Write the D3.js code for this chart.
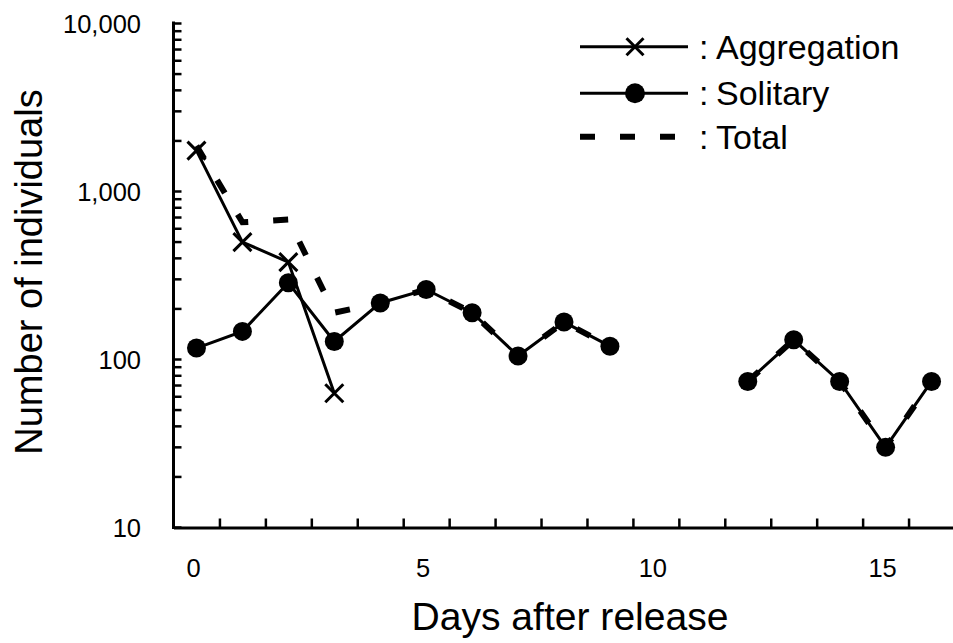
<!DOCTYPE html>
<html>
<head>
<meta charset="utf-8">
<script src="https://cdn.jsdelivr.net/npm/d3@7"></script>
<style>
  body { margin: 0; background: #fff; }
  svg text { font-family: "Liberation Sans", Arial, sans-serif; fill: #000; }
</style>
</head>
<body>
<div id="container"></div>
<script>
// Data
const days = [0, 1, 2, 3, 4, 5, 6, 7, 8, 9, 10, 11, 12, 13, 14, 15, 16];
const aggregation = [1750, 500, 380, 63, null, null, null, null, null, null, null, null, null, null, null, null, null];
const solitary = [117, 147, 286, 128, 217, 261, 190, 105, 167, 120, null, null, 74, 131, 74, 30, 74];
const total = [1870, 656, 681, 190, 217, 261, 190, 105, 167, 120, null, null, 74, 131, 74, 30, 74];
const yTicks = [10, 100, 1000, 10000];
const xTickLabels = [0, 5, 10, 15];
const legendItems = [
  { name: "Aggregation", kind: "cross" },
  { name: "Solitary", kind: "dot" },
  { name: "Total", kind: "dash" },
];

const width = 953;
const height = 643;

const x = d3.scaleLinear().domain([-0.5, 16.5]).range([173.5, 954.5]);
const y = d3.scaleLog().domain([10, 10000]).range([527.5, 23.5]);

const svg = d3
  .select("#container")
  .append("svg")
  .attr("width", width)
  .attr("height", height);

svg.append("rect").attr("width", width).attr("height", height).attr("fill", "#fff");

// Y axis: minor ticks inside, labels drawn separately
const minorTicks = [];
[10, 100, 1000].forEach((d) => {
  for (let k = 1; k <= 9; k++) minorTicks.push(d * k);
});
minorTicks.push(10000);

svg
  .append("g")
  .selectAll("line")
  .data(minorTicks)
  .enter()
  .append("line")
  .attr("x1", x(-0.5))
  .attr("x2", x(-0.5) + 8)
  .attr("y1", (d) => y(d))
  .attr("y2", (d) => y(d))
  .attr("stroke", "#000")
  .attr("stroke-width", 2.5);

svg
  .append("line")
  .attr("x1", x(-0.5))
  .attr("x2", x(-0.5))
  .attr("y1", y(10000) - 2)
  .attr("y2", y(10) + 1.5)
  .attr("stroke", "#000")
  .attr("stroke-width", 3);

svg
  .append("g")
  .selectAll("text")
  .data(yTicks)
  .enter()
  .append("text")
  .attr("x", 141)
  .attr("y", (d) => y(d))
  .attr("dy", "0.36em")
  .attr("text-anchor", "end")
  .attr("font-size", 25.5)
  .text(d3.format(","));

// X axis: ticks between days
const xAxis = d3
  .axisBottom(x)
  .tickValues(d3.range(0.5, 17, 1))
  .tickSizeInner(-9)
  .tickSizeOuter(0)
  .tickFormat("");

const gx = svg.append("g").attr("transform", `translate(0,${y(10)})`).call(xAxis);
gx.select(".domain").attr("stroke-width", 3);
gx.selectAll(".tick line").attr("stroke-width", 2.5);

svg
  .append("g")
  .selectAll("text")
  .data(xTickLabels)
  .enter()
  .append("text")
  .attr("x", (d) => x(d) - 3)
  .attr("y", 577)
  .attr("text-anchor", "middle")
  .attr("font-size", 25.5)
  .text((d) => d);

// Axis titles
svg
  .append("text")
  .attr("x", 570)
  .attr("y", 630)
  .attr("text-anchor", "middle")
  .attr("font-size", 38)
  .attr("textLength", 317)
  .attr("lengthAdjust", "spacingAndGlyphs")
  .text("Days after release");

svg
  .append("text")
  .attr("transform", "translate(42,272) rotate(-90)")
  .attr("text-anchor", "middle")
  .attr("font-size", 38)
  .text("Number of individuals");

// Series
const line = d3
  .line()
  .defined((d) => d[1] != null)
  .x((d) => x(d[0]))
  .y((d) => y(d[1]));

const crossPath = (cx, cy, s) =>
  `M${cx - s},${cy - s}L${cx + s},${cy + s}M${cx - s},${cy + s}L${cx + s},${cy - s}`;

const aggData = days.map((d, i) => [d, aggregation[i]]);
const solData = days.map((d, i) => [d, solitary[i]]);
const totData = days.map((d, i) => [d, total[i]]);

svg
  .append("path")
  .attr("d", line(aggData))
  .attr("fill", "none")
  .attr("stroke", "#000")
  .attr("stroke-width", 3);

svg
  .append("g")
  .selectAll("path")
  .data(aggData.filter((d) => d[1] != null))
  .enter()
  .append("path")
  .attr("d", (d) => crossPath(x(d[0]), y(d[1]), 9))
  .attr("stroke", "#000")
  .attr("stroke-width", 3);

svg
  .append("path")
  .attr("d", line(solData))
  .attr("fill", "none")
  .attr("stroke", "#000")
  .attr("stroke-width", 3);

svg
  .append("g")
  .selectAll("circle")
  .data(solData.filter((d) => d[1] != null))
  .enter()
  .append("circle")
  .attr("cx", (d) => x(d[0]))
  .attr("cy", (d) => y(d[1]))
  .attr("r", 9.5)
  .attr("fill", "#000");

svg
  .append("path")
  .attr("d", line(totData))
  .attr("fill", "none")
  .attr("stroke", "#000")
  .attr("stroke-width", 6)
  .attr("stroke-dasharray", "15,25");

// Legend
const legendY = [46.7, 93.3, 136.7];
const legend = svg
  .append("g")
  .selectAll("g")
  .data(legendItems)
  .enter()
  .append("g")
  .attr("transform", (d, i) => `translate(0,${legendY[i]})`);

legend
  .append("line")
  .attr("x1", 580)
  .attr("x2", (d) => (d.kind === "dash" ? 675 : 688))
  .attr("stroke", "#000")
  .attr("stroke-width", (d) => (d.kind === "dash" ? 6 : 3))
  .attr("stroke-dasharray", (d) => (d.kind === "dash" ? "15,25" : null));

legend
  .filter((d) => d.kind === "cross")
  .append("path")
  .attr("d", crossPath(635, 0, 8.5))
  .attr("stroke", "#000")
  .attr("stroke-width", 3);

legend
  .filter((d) => d.kind === "dot")
  .append("circle")
  .attr("cx", 635)
  .attr("r", 10)
  .attr("fill", "#000");

const legendText = legend
  .append("text")
  .attr("x", 699)
  .attr("y", 12)
  .attr("font-size", 34);
legendText.append("tspan").text(":");
legendText
  .append("tspan")
  .attr("x", 716)
  .text((d) => d.name);
</script>
</body>
</html>
